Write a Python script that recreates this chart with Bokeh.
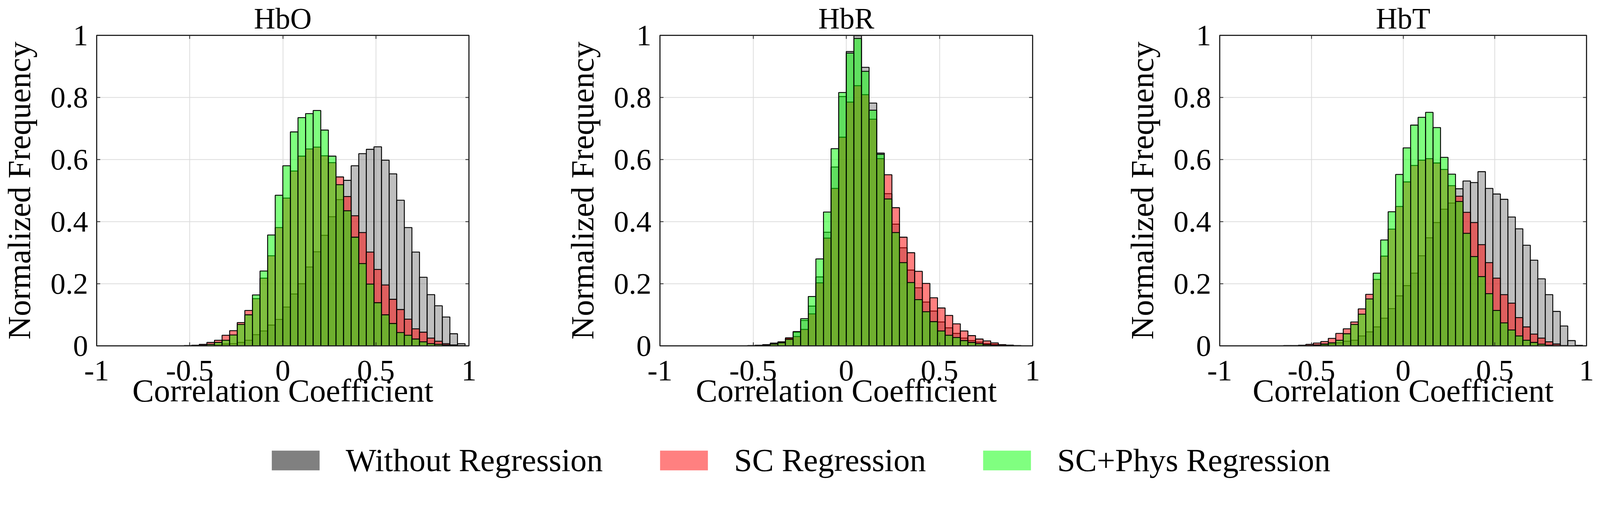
import numpy as np
from bokeh.plotting import figure
from bokeh.models import (Range1d, FixedTicker, CustomJSTickFormatter, LinearAxis,
                          Legend, LegendItem, ColumnDataSource, Title)
from bokeh.layouts import column, row
from bokeh.embed import file_html
from bokeh.resources import INLINE

# ---------------- data ----------------
BIN_W = 0.0408          # histogram bin width (bins start at 0)
series_names = ["Without Regression", "SC Regression", "SC+Phys Regression"]
bar_colors = ["#808080", "#ff0000", "#00ff00"]
legend_colors = ["#808080", "#ff8080", "#80ff80"]
panel_titles = ["HbO", "HbR", "HbT"]
x_ticks = [-1, -0.5, 0, 0.5, 1]
y_ticks = [0, 0.2, 0.4, 0.6, 0.8, 1]

# HbO, bins k = -13 .. 23
hbo_first_bin = -13
hbo_without = [0, 0, 0, 0.001, 0.003, 0.006, 0.007, 0.011, 0.018, 0.036, 0.048, 0.067, 0.085,
               0.125, 0.167, 0.200, 0.254, 0.303, 0.356, 0.416, 0.471, 0.533, 0.580, 0.619, 0.633,
               0.641, 0.598, 0.554, 0.469, 0.381, 0.302, 0.221, 0.165, 0.129, 0.093, 0.039, 0.007]
hbo_sc = [0.001, 0.002, 0.005, 0.011, 0.018, 0.034, 0.049, 0.075, 0.114, 0.152, 0.218, 0.290, 0.381,
          0.476, 0.563, 0.611, 0.634, 0.640, 0.612, 0.590, 0.544, 0.481, 0.419, 0.365, 0.302,
          0.246, 0.196, 0.150, 0.117, 0.086, 0.055, 0.044, 0.025, 0.015, 0.007, 0.003, 0.001]
hbo_scphys = [0, 0.001, 0.002, 0.005, 0.011, 0.018, 0.035, 0.069, 0.100, 0.164, 0.241, 0.357, 0.485,
              0.580, 0.689, 0.735, 0.748, 0.758, 0.695, 0.611, 0.519, 0.435, 0.350, 0.265, 0.199,
              0.139, 0.100, 0.072, 0.043, 0.034, 0.022, 0.013, 0.007, 0.005, 0.003, 0.001, 0]

# HbR, bins k = -13 .. 22
hbr_first_bin = -13
hbr_without = [0, 0.001, 0.003, 0.006, 0.011, 0.024, 0.044, 0.082, 0.128, 0.222, 0.366, 0.576, 0.803,
               0.948, 0.999, 0.897, 0.782, 0.621, 0.490, 0.392, 0.316, 0.244, 0.187, 0.141, 0.112,
               0.077, 0.058, 0.040, 0.025, 0.017, 0.012, 0.007, 0.005, 0.002, 0.001, 0.0005]
hbr_sc = [0.001, 0.002, 0.004, 0.009, 0.013, 0.026, 0.030, 0.053, 0.103, 0.203, 0.347, 0.507, 0.672,
          0.785, 0.838, 0.809, 0.730, 0.603, 0.551, 0.445, 0.350, 0.300, 0.240, 0.201, 0.155,
          0.122, 0.098, 0.071, 0.048, 0.033, 0.022, 0.016, 0.0095, 0.004, 0.0024, 0.001]
hbr_scphys = [0, 0.001, 0.002, 0.006, 0.010, 0.021, 0.046, 0.0875, 0.159, 0.280, 0.431, 0.635, 0.816,
              0.943, 0.990, 0.884, 0.759, 0.617, 0.473, 0.365, 0.268, 0.204, 0.149, 0.110, 0.078,
              0.048, 0.034, 0.027, 0.017, 0.011, 0.007, 0.004, 0.002, 0.001, 0.0005, 0]

# HbT, bins k = -16 .. 23
hbt_first_bin = -16
hbt_without = [0, 0, 0, 0.001, 0.002, 0.003, 0.006, 0.010, 0.015, 0.018, 0.032, 0.045, 0.061, 0.089,
               0.120, 0.161, 0.194, 0.234, 0.290, 0.348, 0.397, 0.440, 0.460, 0.506, 0.531, 0.526,
               0.561, 0.507, 0.489, 0.472, 0.415, 0.377, 0.324, 0.276, 0.216, 0.165, 0.111, 0.064,
               0.017, 0.0016]
hbt_sc = [0.001, 0.001, 0.002, 0.005, 0.009, 0.014, 0.024, 0.040, 0.055, 0.077, 0.119, 0.166, 0.214,
          0.289, 0.376, 0.449, 0.528, 0.581, 0.598, 0.603, 0.589, 0.568, 0.516, 0.482, 0.430,
          0.397, 0.326, 0.268, 0.218, 0.165, 0.1375, 0.091, 0.061, 0.038, 0.025, 0.013, 0.006,
          0.001, 0, 0]
hbt_scphys = [0, 0, 0.0005, 0.001, 0.003, 0.006, 0.010, 0.018, 0.039, 0.069, 0.102, 0.151, 0.234,
              0.341, 0.432, 0.552, 0.6375, 0.711, 0.736, 0.752, 0.703, 0.607, 0.553, 0.465, 0.3625,
              0.2875, 0.223, 0.168, 0.114, 0.074, 0.051, 0.032, 0.018, 0.011, 0.0055, 0.002, 0.001,
              0.0005, 0, 0]

panels = [
    (hbo_first_bin, [hbo_without, hbo_sc, hbo_scphys]),
    (hbr_first_bin, [hbr_without, hbr_sc, hbr_scphys]),
    (hbt_first_bin, [hbt_without, hbt_sc, hbt_scphys]),
]

# ---------------- style / layout (CSS px) ----------------
FONT = "Liberation Serif"
AXIS_COLOR = "#262626"
TICK_FS = "77px"
LABEL_FS = "83px"
TITLE_FS = "76px"
TOP = 90
BOTTOM = 192
FRAME_H = 795
borders = [(241, 959, 242), (242, 959, 232), (242, 944, 20)]


def style_axis(ax, ticks, labels):
    ax.ticker = FixedTicker(ticks=ticks)
    ax.major_tick_in = 9
    ax.major_tick_out = 0
    ax.minor_tick_line_color = None
    ax.axis_line_color = AXIS_COLOR
    ax.axis_line_width = 3
    ax.major_tick_line_color = AXIS_COLOR
    ax.major_tick_line_width = 2
    if labels:
        ax.formatter = CustomJSTickFormatter(code="return tick.toString();")
        ax.major_label_text_font = FONT
        ax.major_label_text_font_size = TICK_FS
        ax.major_label_text_color = "black"
    else:
        ax.formatter = CustomJSTickFormatter(code="return '';")
        ax.major_label_text_font_size = "1px"
        ax.major_label_standoff = 0


figs = []
for idx, (first_bin, series) in enumerate(panels):
    lb, fw, rb = borders[idx]
    p = figure(width=lb + fw + rb, height=TOP + FRAME_H + BOTTOM,
               x_range=Range1d(-1, 1), y_range=Range1d(0, 1),
               output_backend="svg", toolbar_location=None,
               min_border_left=lb, min_border_right=rb,
               min_border_top=TOP, min_border_bottom=BOTTOM)
    p.background_fill_color = "white"
    p.border_fill_color = "white"
    p.outline_line_color = AXIS_COLOR
    p.outline_line_width = 3

    for vals, col in zip(series, bar_colors):
        k = first_bin + np.arange(len(vals))
        src = ColumnDataSource(dict(left=k * BIN_W, right=(k + 1) * BIN_W, top=vals))
        p.quad(left="left", right="right", bottom=0, top="top", source=src,
               fill_color=col, fill_alpha=0.5, line_color="black", line_width=2.3)

    xa = p.xaxis[0]
    ya = p.yaxis[0]
    style_axis(xa, x_ticks, True)
    style_axis(ya, y_ticks, True)
    xa.major_label_standoff = 38
    ya.major_label_standoff = 22
    xa.axis_label = "Correlation Coefficient"
    ya.axis_label = "Normalized Frequency"
    for ax in (xa, ya):
        ax.axis_label_text_font = FONT
        ax.axis_label_text_font_size = LABEL_FS
        ax.axis_label_text_font_style = "normal"
        ax.axis_label_text_color = "black"
    xa.axis_label_standoff = -23
    ya.axis_label_standoff = 31

    top_ax = LinearAxis()
    style_axis(top_ax, x_ticks, False)
    p.add_layout(top_ax, "above")
    right_ax = LinearAxis()
    style_axis(right_ax, y_ticks, False)
    p.add_layout(right_ax, "right")

    p.xgrid.ticker = FixedTicker(ticks=x_ticks)
    p.ygrid.ticker = FixedTicker(ticks=y_ticks)
    p.grid.grid_line_color = "#dcdcdc"
    p.grid.grid_line_width = 2

    p.title = Title(text=panel_titles[idx], align="center", text_font=FONT,
                    text_font_size=TITLE_FS, text_font_style="normal",
                    text_color="black", standoff=4, text_line_height=0.7)
    figs.append(p)

# ---------------- legend ----------------
lf = figure(width=4081, height=149, x_range=Range1d(0, 1), y_range=Range1d(0, 1),
            output_backend="svg", toolbar_location=None, min_border=0)
lf.axis.visible = False
lf.grid.visible = False
lf.outline_line_color = None
items = []
for name, col in zip(series_names, legend_colors):
    # zero-size placeholder glyph: only its legend swatch is seen
    r = lf.quad(left=[0], right=[0], top=[0], bottom=[0], fill_color=col, line_color=None)
    items.append(LegendItem(label=name, renderers=[r]))
legend = Legend(items=items, orientation="horizontal", location=(680, 0),
                glyph_width=153, glyph_height=63, label_height=63,
                label_text_font=FONT, label_text_font_size=LABEL_FS,
                label_text_color="black",
                label_standoff=52, spacing=131, padding=0, margin=0,
                border_line_alpha=0, background_fill_alpha=0)
lf.add_layout(legend)

layout = column(row(*figs), lf)
open("out.html", "w").write(file_html(layout, INLINE))
